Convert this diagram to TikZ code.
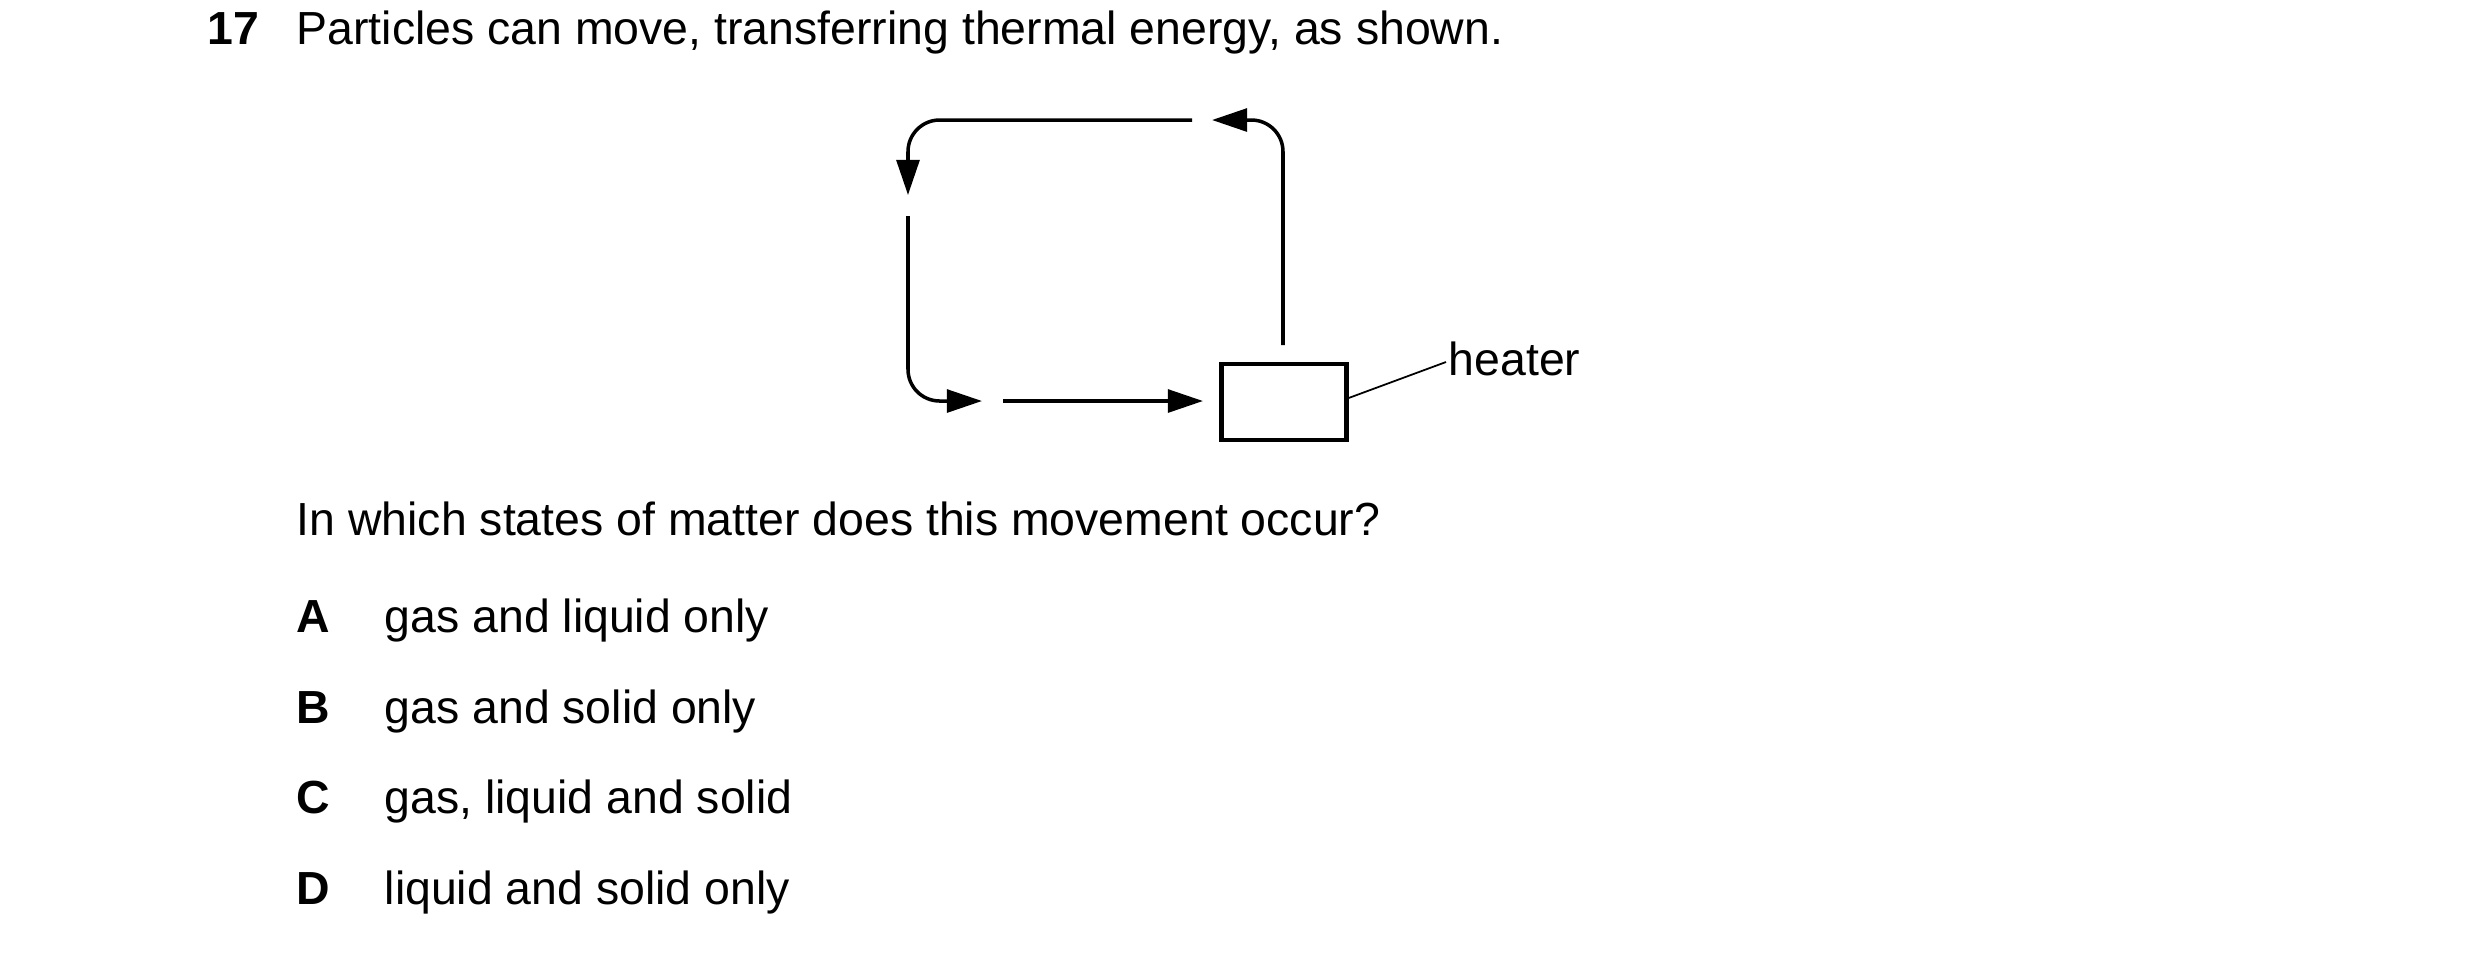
\documentclass[tikz,border=0pt]{standalone}
\usepackage{fontspec}
\setmainfont{Liberation Sans}
\usetikzlibrary{arrows.meta}
\begin{document}
\begin{tikzpicture}[x=0.01cm,y=-0.01cm,
  txt/.style={anchor=base west,inner sep=0pt,font=\fontsize{13.2pt}{16pt}\selectfont},
  flow/.style={line width=1pt,-{Triangle[length=10pt,width=6.5pt]},rounded corners=9pt},
  box/.style={draw,line width=1.2pt,minimum width=125*0.2845pt,minimum height=76*0.2845pt,inner sep=0pt}]
\useasboundingbox (0,0) rectangle (2480,956);
\node[txt,font=\fontsize{13.2pt}{16pt}\selectfont\bfseries] (num) at (207,44) {17};
\node[txt] (q1) at (296,44) {Particles can move, transferring thermal energy, as shown.};
\node[box] (heater) at (1284,402) {};
\coordinate (t1) at (1192,120);
\coordinate (t2) at (908,195);
\coordinate (l1) at (908,216);
\coordinate (l2) at (982,401);
\coordinate (b1) at (1003,401);
\coordinate (b2) at (1203,401);
\coordinate (r1) at (1283,345);
\coordinate (r2) at (1212,120);
\draw[flow] (t1) -| (t2);
\draw[flow] (l1) |- (l2);
\draw[flow] (b1) -- (b2);
\draw[flow] (r1) |- (r2);
\node[txt] (hl) at (1448,375) {heater};
\draw[line width=0.5pt] (heater.east |- 0,398) -- (1446,362);
\node[txt] (q2) at (296,535) {In which states of matter does this movement occur?};
\node[txt,font=\fontsize{13.2pt}{16pt}\selectfont\bfseries] (la) at (296,632) {A};
\node[txt] (a) at (384,632) {gas and liquid only};
\node[txt,font=\fontsize{13.2pt}{16pt}\selectfont\bfseries] (lb) at (296,723) {B};
\node[txt] (b) at (384,723) {gas and solid only};
\node[txt,font=\fontsize{13.2pt}{16pt}\selectfont\bfseries] (lc) at (296,813) {C};
\node[txt] (c) at (384,813) {gas, liquid and solid};
\node[txt,font=\fontsize{13.2pt}{16pt}\selectfont\bfseries] (ld) at (296,904) {D};
\node[txt] (d) at (384,904) {liquid and solid only};
\end{tikzpicture}
\end{document}
